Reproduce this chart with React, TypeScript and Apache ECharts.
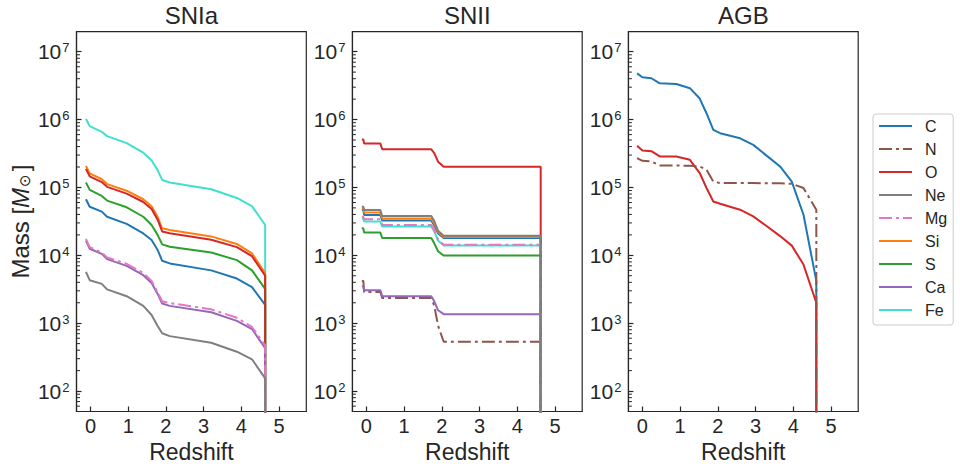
import React, { useEffect, useRef } from "react";
import * as echarts from "echarts";

// ---------- data ----------
const ELEMENTS = ["C", "N", "O", "Ne", "Mg", "Si", "S", "Ca", "Fe"];
// drawing order (later = on top), as in the reference's overlaps
const DRAW_ORDER = ["Fe", "C", "Si", "S", "O", "N", "Ca", "Mg", "Ne"];
const PANEL_TITLES = ["SNIa", "SNII", "AGB"];
const X_TICKS = [0, 1, 2, 3, 4, 5];
const Y_MAJOR_EXPONENTS = [2, 3, 4, 5, 6, 7];

// SNIa (redshift grid + masses in Msun)
const SNIA_Z = [-0.12, -0.02, 0.3, 0.44, 0.96, 1.4, 1.62, 1.78, 1.9, 2.1, 3.2, 3.88, 4.28, 4.63];
const SNIA_C = [6.7e4, 5.2e4, 4.4e4, 3.7e4, 2.9e4, 2.1e4, 1.68e4, 1.2e4, 8.3e3, 7.6e3, 6.0e3, 4.55e3, 3.4e3, 1.86e3];
const SNIA_O = [1.88e5, 1.46e5, 1.2e5, 1.02e5, 8.1e4, 6.1e4, 4.8e4, 3.35e4, 2.25e4, 2.12e4, 1.7e4, 1.32e4, 9.7e3, 5.0e3];
const SNIA_NE = [5.7e3, 4.3e3, 3.8e3, 3.15e3, 2.5e3, 1.8e3, 1.32e3, 910, 710, 645, 515, 380, 294, 154];
const SNIA_MG = [1.75e4, 1.32e4, 1.1e4, 9.3e3, 7.5e3, 5.5e3, 4.2e3, 2.85e3, 2.1e3, 1.98e3, 1.6e3, 1.2e3, 880, 470];
const SNIA_SI = [2.07e5, 1.61e5, 1.32e5, 1.12e5, 8.95e4, 6.7e4, 5.3e4, 3.7e4, 2.5e4, 2.36e4, 1.9e4, 1.47e4, 1.07e4, 5.5e3];
const SNIA_S = [1.18e5, 9.2e4, 7.5e4, 6.4e4, 5.1e4, 3.7e4, 2.8e4, 2.0e4, 1.45e4, 1.34e4, 1.1e4, 8.5e3, 6.0e3, 3.2e3];
const SNIA_CA = [1.65e4, 1.25e4, 1.05e4, 8.8e3, 7.0e3, 5.1e3, 3.9e3, 2.7e3, 1.95e3, 1.8e3, 1.45e3, 1.08e3, 820, 430];
const SNIA_FE = [1.02e6, 8.0e5, 6.6e5, 5.7e5, 4.5e5, 3.25e5, 2.5e5, 1.8e5, 1.29e5, 1.18e5, 9.4e4, 7.0e4, 5.3e4, 2.8e4];

// SNII
const SNII_Z = [-0.12, -0.08, -0.06, 0.37, 0.42, 1.72, 1.8, 1.9, 2.05, 4.62];
const SNII_C = [4.65e4, 4.65e4, 3.94e4, 3.94e4, 3.25e4, 3.25e4, 2.75e4, 2.1e4, 1.8e4, 1.8e4];
const SNII_N = [4.2e3, 4.2e3, 2.88e3, 2.88e3, 2.35e3, 2.35e3, 1.8e3, 920, 533, 533];
const SNII_O = [5.1e5, 5.1e5, 4.45e5, 4.45e5, 3.65e5, 3.65e5, 3.2e5, 2.4e5, 2.02e5, 2.02e5];
const SNII_NE = [5.2e4, 5.2e4, 4.65e4, 4.65e4, 3.8e4, 3.8e4, 3.2e4, 2.3e4, 1.94e4, 1.94e4];
const SNII_MG = [3.7e4, 3.7e4, 3.4e4, 3.4e4, 2.8e4, 2.8e4, 2.35e4, 1.7e4, 1.43e4, 1.43e4];
const SNII_SI = [4.93e4, 4.93e4, 4.27e4, 4.27e4, 3.5e4, 3.5e4, 2.95e4, 2.2e4, 1.86e4, 1.86e4];
const SNII_S = [2.5e4, 2.5e4, 2.17e4, 2.17e4, 1.8e4, 1.8e4, 1.5e4, 1.15e4, 9.9e3, 9.9e3];
const SNII_CA = [3.5e3, 3.5e3, 3.07e3, 3.07e3, 2.5e3, 2.5e3, 2.1e3, 1.55e3, 1.36e3, 1.36e3];
const SNII_FE = [3.5e4, 3.5e4, 3.15e4, 3.15e4, 2.65e4, 2.65e4, 2.25e4, 1.65e4, 1.4e4, 1.4e4];

// AGB
const AGB_Z = [-0.14, 0, 0.24, 0.46, 0.9, 1.26, 1.52, 1.7, 1.88, 2.06, 2.59, 2.94, 3.3, 3.65, 3.96, 4.27, 4.61];
const AGB_C = [4.8e6, 4.2e6, 4.06e6, 3.42e6, 3.35e6, 2.9e6, 2.04e6, 1.24e6, 7.05e5, 6.3e5, 5.3e5, 4.24e5, 2.92e5, 2.04e5, 1.22e5, 3.96e4, 4.2e3];
const AGB_N = [2.7e5, 2.47e5, 2.41e5, 2.11e5, 2.11e5, 2.08e5, 2.04e5, 1.82e5, 1.22e5, 1.16e5, 1.16e5, 1.16e5, 1.15e5, 1.15e5, 1.13e5, 9.8e4, 4.7e4];
const AGB_O = [4.1e5, 3.5e5, 3.42e5, 2.86e5, 2.86e5, 2.55e5, 1.63e5, 9.8e4, 6.2e4, 5.75e4, 4.7e4, 3.75e4, 2.68e4, 1.92e4, 1.39e4, 7.3e3, 2.0e3];

// ---------- styling ----------
const COLORS: Record<string, string> = {
  C: "#1f77b4",
  N: "#8c564b",
  O: "#d62728",
  Ne: "#7f7f7f",
  Mg: "#e377c2",
  Si: "#ff7f0e",
  S: "#2ca02c",
  Ca: "#9467bd",
  Fe: "#40e0d0",
};
const DASHDOT = ["N", "Mg"];
const FONT = '"Liberation Sans", Arial, sans-serif';
const INK = "#262626";
const X_MIN = -0.37;
const X_MAX = 5.72;
const Y_MIN = 50;
const Y_MAX = 1.97e7;
const ZERO = 1e-6; // mass drops to zero after the last redshift

const PANELS = [
  { z: SNIA_Z, data: { C: SNIA_C, O: SNIA_O, Ne: SNIA_NE, Mg: SNIA_MG, Si: SNIA_SI, S: SNIA_S, Ca: SNIA_CA, Fe: SNIA_FE } as Record<string, number[]> },
  { z: SNII_Z, data: { C: SNII_C, N: SNII_N, O: SNII_O, Ne: SNII_NE, Mg: SNII_MG, Si: SNII_SI, S: SNII_S, Ca: SNII_CA, Fe: SNII_FE } as Record<string, number[]> },
  { z: AGB_Z, data: { C: AGB_C, N: AGB_N, O: AGB_O } as Record<string, number[]> },
];

const GRID_LEFTS = [76.5, 352.4, 628.4];
const GRID_W = 229.8;
const GRID_TOP = 31.7;
const GRID_H = 379.8;

function minorValues(): number[] {
  const out: number[] = [];
  for (let e = 1; e <= 7; e++) {
    for (let m = 2; m <= 9; m++) {
      const v = m * Math.pow(10, e);
      if (v > Y_MIN && v < Y_MAX) out.push(v);
    }
  }
  return out;
}

function buildOption(extraGraphics: any[]) {
  const grids: any[] = [];
  const xAxes: any[] = [];
  const yAxes: any[] = [];
  const series: any[] = [];
  const graphics: any[] = [];

  PANELS.forEach((panel, p) => {
    grids.push({
      left: GRID_LEFTS[p],
      top: GRID_TOP,
      width: GRID_W,
      height: GRID_H,
      show: true,
      borderColor: INK,
      borderWidth: 1.2,
      backgroundColor: "transparent",
      containLabel: false,
    });
    xAxes.push({
      type: "value",
      gridIndex: p,
      min: X_MIN,
      max: X_MAX,
      splitNumber: 5,
      axisLine: { show: true, onZero: false, lineStyle: { color: INK, width: 1.2 } },
      splitLine: { show: false },
      axisTick: { show: true, inside: true, length: 5, lineStyle: { color: INK, width: 1.2 } },
      axisLabel: {
        margin: 4,
        fontSize: 20,
        color: INK,
        fontFamily: FONT,
        showMinLabel: false,
        showMaxLabel: false,
        formatter: (v: number) => {
          const r = Math.round(v);
          return Math.abs(v - r) < 1e-6 && X_TICKS.includes(r) ? String(r) : "";
        },
      },
      name: "Redshift",
      nameLocation: "middle",
      nameGap: 26,
      nameTextStyle: { fontSize: 23, color: INK, fontFamily: FONT },
    });
    yAxes.push({
      type: "log",
      logBase: 10,
      gridIndex: p,
      min: Y_MIN,
      max: Y_MAX,
      axisLine: { show: true, onZero: false, lineStyle: { color: INK, width: 1.2 } },
      splitLine: { show: false },
      minorTick: { show: false },
      axisTick: { show: true, inside: true, length: 5, lineStyle: { color: INK, width: 1.2 } },
      axisLabel: {
        margin: 7,
        color: INK,
        fontFamily: FONT,
        showMinLabel: false,
        showMaxLabel: false,
        formatter: (v: number) => {
          const l = Math.log10(v);
          const e = Math.round(l);
          if (Math.abs(l - e) > 1e-6 || !Y_MAJOR_EXPONENTS.includes(e)) return "";
          return `{b|10}{s|${e}}`;
        },
        rich: {
          b: { fontSize: 21, lineHeight: 21, padding: [8, 0, 0, 0], verticalAlign: "bottom", color: INK, fontFamily: FONT },
          s: { fontSize: 13, lineHeight: 13, padding: [0, 0, 0, 1], verticalAlign: "top", color: INK, fontFamily: FONT },
        },
      },
    });

    DRAW_ORDER.forEach((el) => {
      const vals = panel.data[el];
      if (!vals) return;
      const pts: number[][] = panel.z.map((x, i) => [x, vals[i]]);
      pts.push([panel.z[panel.z.length - 1], ZERO]);
      const dash = DASHDOT.includes(el);
      series.push({
        type: "line",
        name: el,
        xAxisIndex: p,
        yAxisIndex: p,
        data: pts,
        symbol: "none",
        showSymbol: false,
        clip: true,
        color: COLORS[el],
        itemStyle: { color: COLORS[el] },
        lineStyle: { color: COLORS[el], width: 2, type: dash ? [13, 4, 3, 4] : "solid" },
        emphasis: { disabled: true },
        animation: false,
      });
    });

    graphics.push({
      type: "text",
      id: "title" + p,
      x: GRID_LEFTS[p] + GRID_W / 2,
      y: 15.9,
      style: {
        text: PANEL_TITLES[p],
        fontSize: 24,
        fontFamily: FONT,
        fill: INK,
        align: "center",
        verticalAlign: "middle",
        textAlign: "center",
        textVerticalAlign: "middle",
      },
    });
  });

  graphics.push({
    type: "text",
    id: "ylabel",
    x: 20.5,
    y: GRID_TOP + GRID_H / 2,
    rotation: Math.PI / 2,
    style: {
      text: "{n|Mass [}{i|M}{sub|⊙}{n|]}",
      fontSize: 24,
      fontFamily: FONT,
      fill: INK,
      align: "center",
      verticalAlign: "middle",
      textAlign: "center",
      textVerticalAlign: "middle",
      rich: {
        n: { fontSize: 24, lineHeight: 24, padding: [0, 0, 5, 0], verticalAlign: "top", fontFamily: FONT, fill: INK },
        i: { fontSize: 24, lineHeight: 24, padding: [0, 1, 5, 0], verticalAlign: "top", fontStyle: "italic", fontFamily: FONT, fill: INK },
        sub: { fontSize: 15, lineHeight: 15, padding: [0, 3, 0, 0], verticalAlign: "bottom", fontFamily: '"DejaVu Sans", sans-serif', fill: INK },
      },
    },
  });

  return {
    animation: false,
    backgroundColor: "#ffffff",
    grid: grids,
    xAxis: xAxes,
    yAxis: yAxes,
    series,
    graphic: graphics.concat(extraGraphics),
    legend: {
      data: ELEMENTS,
      orient: "vertical",
      left: 873,
      top: 114,
      itemWidth: 33,
      itemHeight: 14,
      itemGap: 7,
      padding: [4, 6, 7, 5],
      backgroundColor: "#ffffff",
      borderColor: "#cccccc",
      borderWidth: 1,
      borderRadius: 3,
      selectedMode: false,
      itemStyle: { opacity: 0 },
      textStyle: { fontSize: 16, lineHeight: 16, color: INK, fontFamily: FONT, padding: [0, 0, 0, 8] },
    },
  };
}

export default function App() {
  const ref = useRef<HTMLDivElement>(null);
  useEffect(() => {
    document.body.style.margin = "0";
    if (!ref.current) return;
    const chart = echarts.init(ref.current, undefined, { renderer: "svg" });
    chart.setOption(buildOption([]) as any);

    // minor log ticks (2..9 x 10^k) on the left spine, placed through the axis scale
    const minors = minorValues();
    const ticks: any[] = [];
    PANELS.forEach((_, p) => {
      minors.forEach((v) => {
        const pt = chart.convertToPixel({ gridIndex: p } as any, [X_MIN, v]) as number[];
        if (!pt || !isFinite(pt[0]) || !isFinite(pt[1])) return;
        ticks.push({
          type: "line",
          silent: true,
          z: 100,
          shape: { x1: pt[0], y1: pt[1], x2: pt[0] + 3.5, y2: pt[1] },
          style: { stroke: INK, lineWidth: 1 },
        });
      });
    });
    if (ticks.length) {
      chart.setOption(
        buildOption([{ id: "minorTicks", type: "group", z: 100, children: ticks }]) as any,
        true
      );
    }

    return () => chart.dispose();
  }, []);
  return (
    <div
      ref={ref}
      style={{ width: 960, height: 469, position: "absolute", left: 0, top: 0, background: "#fff" }}
    />
  );
}
